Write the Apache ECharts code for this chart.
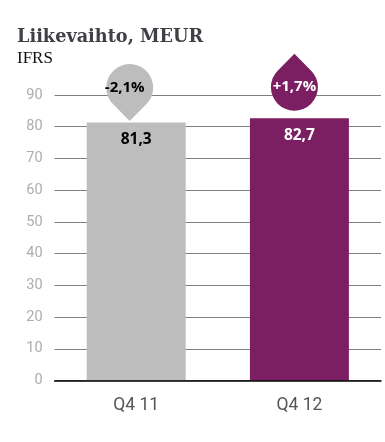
<!DOCTYPE html>
<html><head><meta charset="utf-8">
<style>html,body{margin:0;padding:0;background:#fff}#c{width:385px;height:442px}</style>
<script src="https://cdn.jsdelivr.net/npm/echarts@6/dist/echarts.min.js"></script>
</head><body><div id="c"></div>
<script>
const categories = ['Q4 11', 'Q4 12'];
const revenue = [81.3, 82.7];
const revenueLabels = ['81,3', '82,7'];
const changeLabels = ['-2,1%', '+1,7%'];
const barColors = ['#bdbdbd', '#7c1f62'];
const yTicks = [0, 10, 20, 30, 40, 50, 60, 70, 80, 90];

const dropDown = 'path://M0,33.5 L16.76,16.48 A23.5,23.5 0 1 0 -16.76,16.48 Z';
const dropUp = 'path://M0,-33.5 L16.76,-16.48 A23.5,23.5 0 1 1 -16.76,-16.48 Z';
const dropSymbols = [dropDown, dropUp];
const dropOffsets = [[-6.5, -30], [-5, -36]];
const dropTextOffsets = [[-5, -4.5], [0, 4.5]];
const dropTextColors = ['#000', '#fff'];

const chart = echarts.init(document.getElementById('c'), null, {renderer: 'canvas'});
chart.setOption({
  animation: false,
  backgroundColor: '#fff',
  title: [
    {text: 'Liikevaihto, MEUR', left: 17, top: 28, padding: 0,
     textStyle: {fontFamily: 'DejaVu Serif', fontWeight: 'bold', fontSize: 17.7, color: '#3f3f46'}},
    {text: 'IFRS', left: 17, top: 50, padding: 0,
     textStyle: {fontFamily: 'Liberation Serif', fontWeight: 'normal', fontSize: 17, color: '#111'}}
  ],
  grid: {left: 54.6, right: 4, top: 95, bottom: 61.5, containLabel: false},
  xAxis: {
    type: 'category', data: categories,
    axisLine: {show: true, onZero: true, lineStyle: {color: '#000', width: 1.5}},
    axisTick: {show: false},
    axisLabel: {fontFamily: 'Roboto', fontSize: 17.5, color: '#555', margin: 16},
    z: 5
  },
  yAxis: {
    type: 'value', min: 0, max: 90, interval: 10,
    axisLine: {show: false}, axisTick: {show: false},
    axisLabel: {fontFamily: 'Roboto', fontSize: 14.5, color: '#aeaeae', margin: 12,
      padding: [5, 0, 0, 0],
      formatter: v => yTicks.includes(v) ? String(v) : ''},
    splitLine: {show: true, lineStyle: {color: '#808080', width: 1}}
  },
  series: [
    {
      type: 'bar', barWidth: 99, z: 2,
      data: revenue.map((v, i) => ({
        value: v,
        itemStyle: {color: barColors[i]},
        label: {
          show: true, position: 'insideTop', distance: 9,
          formatter: revenueLabels[i],
          fontFamily: 'Open Sans', fontWeight: 'bold', fontSize: 15.5,
          color: i === 0 ? '#000' : '#fff'
        }
      }))
    },
    {
      type: 'scatter', clip: false, z: 6,
      data: revenue.map((v, i) => ({
        value: [categories[i], v],
        symbol: dropSymbols[i],
        symbolSize: [47, 57],
        symbolOffset: dropOffsets[i],
        itemStyle: {color: barColors[i], opacity: 1},
        label: {
          show: true, position: 'inside', offset: dropTextOffsets[i],
          formatter: changeLabels[i],
          fontFamily: 'Open Sans', fontWeight: 'bold', fontSize: 15,
          color: dropTextColors[i]
        }
      }))
    }
  ]
});
</script></body></html>
